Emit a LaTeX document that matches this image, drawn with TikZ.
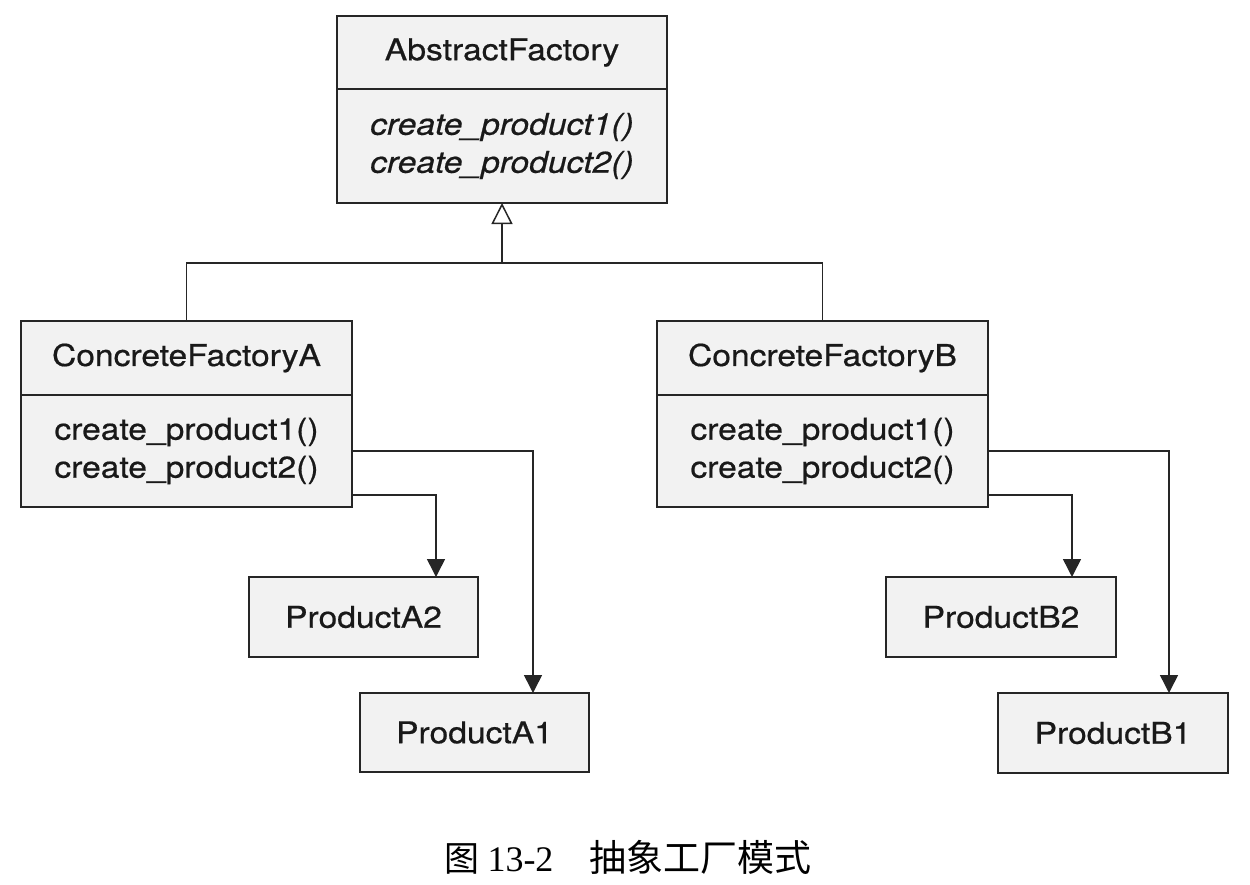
\documentclass[tikz,border=0pt]{standalone}
\usepackage{fontspec}
\setmainfont{TeX Gyre Heros}[FakeStretch=1.12,FakeBold=0.6]
\newfontfamily\cjk{Noto Sans CJK SC}
\newfontfamily\capserif{Liberation Serif}
\usetikzlibrary{arrows.meta}
\begin{document}
\begin{tikzpicture}[x=1pt,y=-1pt,
  box/.style={draw=black!85, line width=2pt, fill=black!5, inner sep=0pt, outer sep=0pt,
    align=center, font=\fontsize{30}{38}\selectfont, text=black!90},
  conn/.style={draw=black!85, line width=1.5pt},
  arr/.style={conn, -{Triangle[length=18pt,width=18pt]}},
  inh/.style={conn, -{Triangle[open,length=21pt,width=21pt,fill=white]}}]
\useasboundingbox (0,0) rectangle (1250,884);
% AbstractFactory
\node[box, minimum width=330pt, minimum height=73pt] (afT) at (502,52.5) {AbstractFactory};
\node[box, minimum width=330pt, minimum height=114pt] (afM) at (502,146)
  {\itshape create\_product1()\\\itshape create\_product2()};
% ConcreteFactoryA
\node[box, minimum width=331pt, minimum height=74pt] (cfaT) at (186.5,358) {ConcreteFactoryA};
\node[box, minimum width=331pt, minimum height=112pt] (cfaM) at (186.5,451)
  {create\_product1()\\create\_product2()};
% ConcreteFactoryB
\node[box, minimum width=331pt, minimum height=74pt] (cfbT) at (822.5,358) {ConcreteFactoryB};
\node[box, minimum width=331pt, minimum height=112pt] (cfbM) at (822.5,451)
  {create\_product1()\\create\_product2()};
% Products
\node[box, minimum width=229pt, minimum height=80pt] (pa2) at (363.5,617) {ProductA2};
\node[box, minimum width=229pt, minimum height=79pt] (pa1) at (474.5,732.5) {ProductA1};
\node[box, minimum width=230pt, minimum height=80pt] (pb2) at (1001,617) {ProductB2};
\node[box, minimum width=230pt, minimum height=80pt] (pb1) at (1113,733) {ProductB1};
% inheritance
\coordinate (bus) at (502,263);
\draw[inh] (bus) -- (afM.south);
\draw[conn] (cfaT.north) |- (bus) -| (cfbT.north);
% creation arrows
\draw[arr] (cfaM.east) -| ([xshift=58.5pt]pa1.north);
\draw[arr] ([yshift=-44pt]cfaM.east) -| ([xshift=72.5pt]pa2.north);
\draw[arr] (cfbM.east) -| ([xshift=56pt]pb1.north);
\draw[arr] ([yshift=-44pt]cfbM.east) -| ([xshift=71pt]pb2.north);
% caption
\node[anchor=base, inner sep=0pt] (cap) at (628,871)
  {{\cjk\fontsize{35}{40}\selectfont 图}\hspace{8pt}{\capserif\fontsize{36}{40}\selectfont 13-2}\hspace{36pt}{\cjk\fontsize{37}{40}\selectfont 抽象工厂模式}};
\end{tikzpicture}
\end{document}
